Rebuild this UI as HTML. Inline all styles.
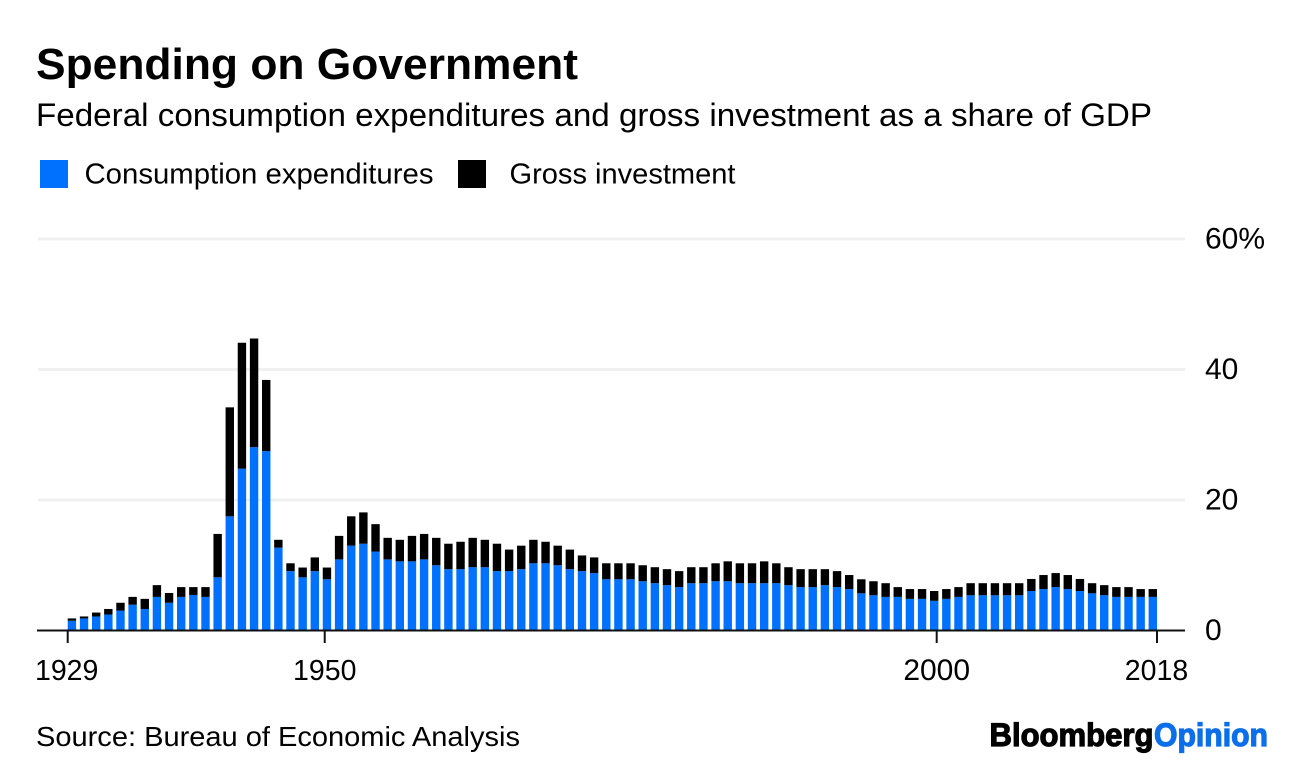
<!DOCTYPE html>
<html lang="en">
<head>
<meta charset="utf-8">
<title>Spending on Government</title>
<style>
  html, body { margin: 0; padding: 0; background: #fff; }
  svg { display: block; }
  text { font-family: "Liberation Sans", Arial, sans-serif; fill: #000; }
</style>
</head>
<body>
<svg id="chart" xmlns="http://www.w3.org/2000/svg" width="1296" height="768" viewBox="0 0 1296 768">
  <rect x="0" y="0" width="1296" height="768" fill="#fff"/>
  <text x="36" y="79" font-size="44" font-weight="700" textLength="542" lengthAdjust="spacingAndGlyphs">Spending on Government</text>
  <text x="36" y="126" font-size="32" textLength="1116" lengthAdjust="spacingAndGlyphs">Federal consumption expenditures and gross investment as a share of GDP</text>

  <g>
    <rect x="40" y="160" width="28" height="28" fill="#0070ff"/>
    <text x="84.5" y="183.5" font-size="28.5" textLength="349" lengthAdjust="spacingAndGlyphs">Consumption expenditures</text>
    <rect x="458" y="160" width="28" height="28" fill="#000"/>
    <text x="509.5" y="183.5" font-size="28.5" textLength="226" lengthAdjust="spacingAndGlyphs">Gross investment</text>
  </g>

  <g id="grid"></g>
  <g id="bars"></g>
  <g id="axes"></g>

  <text x="36" y="746" font-size="28" textLength="484" lengthAdjust="spacingAndGlyphs">Source: Bureau of Economic Analysis</text>
  <g>
    <text x="989.5" y="746" font-size="32.5" font-weight="700" stroke="#000" stroke-width="1.2" textLength="164" lengthAdjust="spacingAndGlyphs">Bloomberg</text>
    <text x="1154" y="746" font-size="32.5" font-weight="700" style="fill:#0a6fe8" stroke="#0a6fe8" stroke-width="1.2" textLength="114" lengthAdjust="spacingAndGlyphs">Opinion</text>
  </g>
</svg>
<script>
const years = [1929,1930,1931,1932,1933,1934,1935,1936,1937,1938,1939,
  1940,1941,1942,1943,1944,1945,1946,1947,1948,1949,
  1950,1951,1952,1953,1954,1955,1956,1957,1958,1959,
  1960,1961,1962,1963,1964,1965,1966,1967,1968,1969,
  1970,1971,1972,1973,1974,1975,1976,1977,1978,1979,
  1980,1981,1982,1983,1984,1985,1986,1987,1988,1989,
  1990,1991,1992,1993,1994,1995,1996,1997,1998,1999,
  2000,2001,2002,2003,2004,2005,2006,2007,2008,2009,
  2010,2011,2012,2013,2014,2015,2016,2017,2018];
const consumption = [1.5,1.85,2.15,2.45,3.05,3.95,3.3,5.15,4.25,5.15,5.45,
  5.15,8.15,17.5,24.8,28.1,27.5,12.7,9.1,8.15,9.1,
  7.85,10.9,13.0,13.3,12.1,10.9,10.6,10.6,10.9,10.0,
  9.4,9.4,9.7,9.7,9.1,9.1,9.4,10.3,10.3,10.0,
  9.4,9.1,8.8,7.85,7.85,7.85,7.55,7.25,6.95,6.65,
  7.25,7.25,7.55,7.55,7.25,7.25,7.25,7.25,6.95,6.65,
  6.65,6.95,6.65,6.35,5.7,5.4,5.15,5.15,4.85,4.85,
  4.55,4.85,5.15,5.4,5.4,5.4,5.4,5.4,6.05,6.35,
  6.65,6.35,6.05,5.7,5.4,5.15,5.15,5.15,5.15];
const investment = [0.35,0.3,0.6,0.85,1.2,1.2,1.55,1.8,1.5,1.5,1.2,
  1.5,6.65,16.7,19.3,16.65,10.9,1.2,1.2,1.5,2.1,
  1.8,3.6,4.5,4.8,4.2,3.3,3.3,3.9,3.9,4.2,
  3.9,4.2,4.5,4.2,4.2,3.3,3.6,3.6,3.3,3.0,
  3.0,2.4,2.4,2.45,2.45,2.45,2.45,2.45,2.45,2.45,
  2.45,2.45,2.75,3.05,3.05,3.05,3.35,3.05,2.75,2.75,
  2.75,2.45,2.45,2.15,2.15,2.15,2.1,1.5,1.5,1.5,
  1.5,1.5,1.5,1.85,1.85,1.85,1.85,1.85,1.85,2.15,
  2.15,2.15,1.85,1.55,1.55,1.5,1.5,1.2,1.2];
const yTickValues = [0,20,40,60];
const yTickLabels = ["0","20","40","60%"];
const xTickYears = [1929,1950,2000,2018];
const xTickLabels = ["1929","1950","2000","2018"];

const NS = "http://www.w3.org/2000/svg";
const plotLeft = 67.7, plotRight = 1157;
const baseY = 630.5, topY = 239, yMax = 60;
const barWidth = 8.4;

function yScale(v) {
  return baseY - (v / yMax) * (baseY - topY);
}
function xTime(year) {
  const first = years[0], last = years[years.length - 1];
  return plotLeft + (year - first) / (last - first) * (plotRight - plotLeft);
}
function xBand(i) {
  const step = (plotRight - plotLeft - barWidth) / (years.length - 1);
  return plotLeft + i * step;
}
function make(tag, attrs, parent) {
  const el = document.createElementNS(NS, tag);
  for (const k in attrs) el.setAttribute(k, attrs[k]);
  parent.appendChild(el);
  return el;
}

const gridG = document.getElementById("grid");
const barsG = document.getElementById("bars");
const axesG = document.getElementById("axes");

yTickValues.forEach(function (v, i) {
  if (v !== 0) {
    const line = make("line", {x1: 38, x2: 1185, y1: yScale(v), y2: yScale(v), stroke: "#f0f0f0", "stroke-width": 3}, gridG);
    
    
  }
  const label = make("text", {x: 1205, y: yScale(v) + 9.5, "font-size": 30}, axesG);
  
  
  label.textContent = yTickLabels[i];
});

years.forEach(function (year, i) {
  const x = xBand(i);
  const c = consumption[i], t = c + investment[i];
  const blue = make("rect", {x: x, width: barWidth, y: yScale(c), height: yScale(0) - yScale(c), fill: "#0070ff"}, barsG);
  
  
  const black = make("rect", {x: x, width: barWidth, y: yScale(t), height: yScale(c) - yScale(t), fill: "#000"}, barsG);
  
  
});

const axisLine = make("line", {x1: 37, x2: 1185, y1: baseY, y2: baseY, stroke: "#111", "stroke-width": 2}, axesG);



xTickYears.forEach(function (year, i) {
  const x = xTime(year);
  const tick = make("line", {x1: x, x2: x, y1: baseY, y2: 643, stroke: "#111", "stroke-width": 2}, axesG);
  
  
  const label = make("text", {x: x - (i === 0 ? 1 : 0) + (i === 3 ? -0.5 : 0), y: 680, "font-size": i === 2 ? 30 : 28.5, "text-anchor": "middle"}, axesG);
  
  
  label.textContent = xTickLabels[i];
});
</script>
</body>
</html>
